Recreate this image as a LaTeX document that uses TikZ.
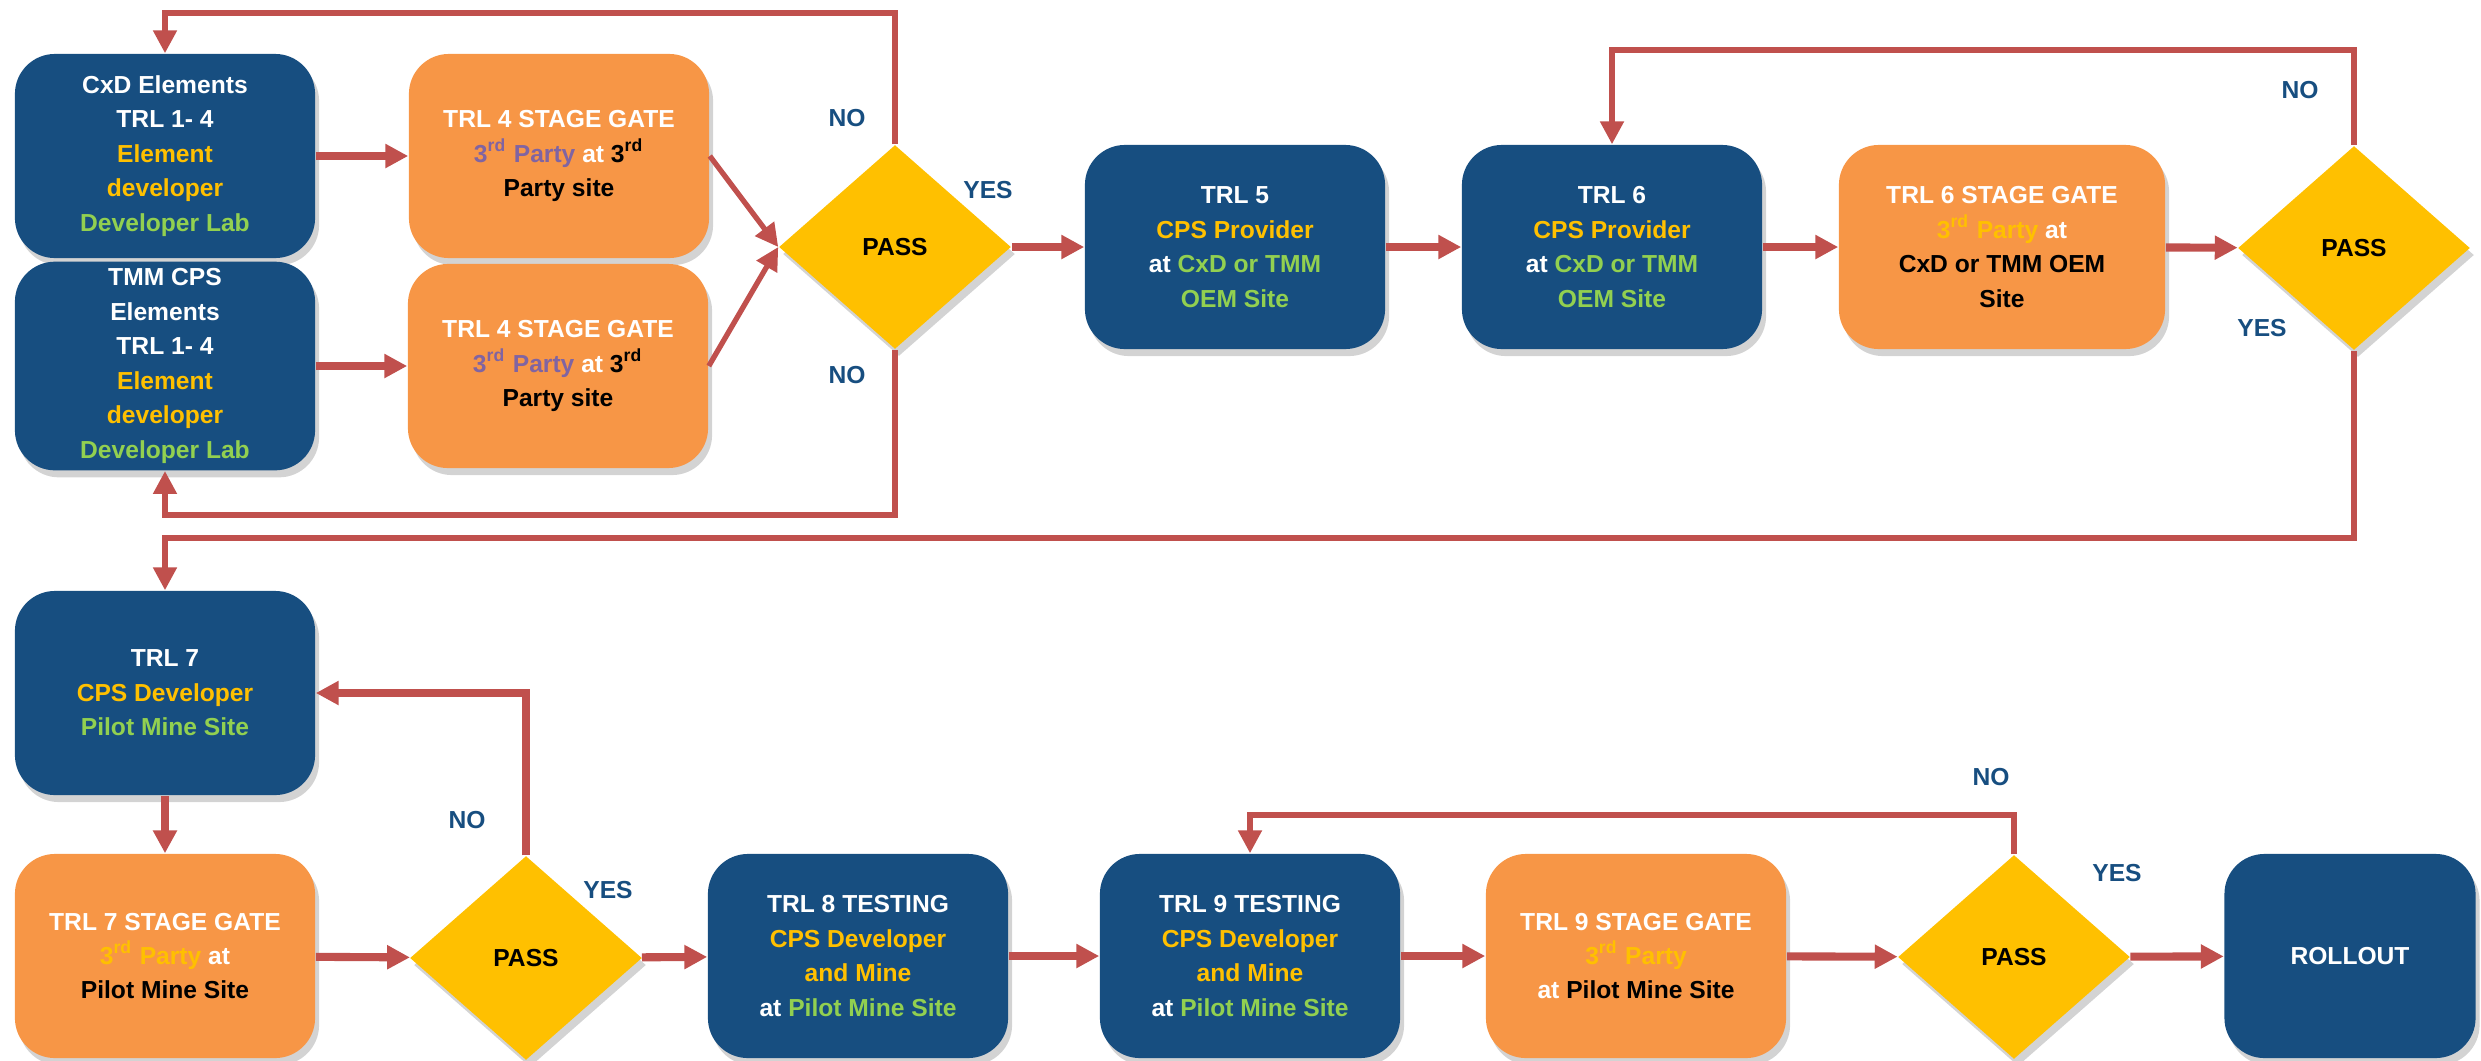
\documentclass[tikz,border=0pt]{standalone}
\usepackage{fontspec}
\setmainfont{Liberation Sans}
\usepackage{tikz}
\usetikzlibrary{shadows}
\usetikzlibrary{positioning}
\usetikzlibrary{arrows.meta,shapes.geometric}
\usetikzlibrary{calc}
\definecolor{trlblue}{HTML}{174E80}
\definecolor{gateorange}{HTML}{F79646}
\definecolor{passyellow}{HTML}{FFC000}
\definecolor{flowred}{HTML}{C0504D}
\definecolor{sitegreen}{HTML}{92D050}
\definecolor{partypurple}{HTML}{8064A2}
\newcommand{\boxfont}{\fontsize{7}{9.8}\selectfont\bfseries}
\newcommand{\rd}{3\textsuperscript{rd}}
\tikzstyle{trlbox}=[rectangle,rounded corners=0.4cm,fill=trlblue,minimum width=3cm,minimum height=2.04cm,inner sep=2pt,align=center,text=white,font=\boxfont,drop shadow={opacity=0.35,shadow xshift=0.04cm,shadow yshift=-0.07cm}]
\tikzstyle{gatebox}=[trlbox,fill=gateorange]
\tikzstyle{passnode}=[diamond,fill=passyellow,minimum width=2.32cm,minimum height=2.04cm,inner sep=0pt,font=\boxfont,drop shadow={opacity=0.35,shadow xshift=0.04cm,shadow yshift=-0.07cm}]
\tikzstyle{flow} = [draw,flowred,line width=2.3pt,-{Triangle[length=6.5pt,width=6.5pt]}]
\tikzstyle{backline} = [draw,flowred,line width=1.5pt,-{Triangle[length=6.5pt,width=6.5pt]}]
\tikzstyle{answer} = [font=\boxfont,text=trlblue]

\begin{document}
\begin{tikzpicture}[x=0.01cm,y=-0.01cm]

    \useasboundingbox (0,0) rectangle (2481,1060);

    % first stage: elements up to TRL 6
    \node[trlbox] (cxd) at (165,156) {CxD Elements\\TRL 1- 4\\\textcolor{passyellow}{Element}\\\textcolor{passyellow}{developer}\\\textcolor{sitegreen}{Developer Lab}};
    \node[trlbox] (tmm) at (165,366) {TMM CPS\\Elements\\TRL 1- 4\\\textcolor{passyellow}{Element}\\\textcolor{passyellow}{developer}\\\textcolor{sitegreen}{Developer Lab}};
    \node[gatebox] (gatea) at (559,156) {TRL 4 STAGE GATE\\\textcolor{partypurple}{\rd{} Party} at \textcolor{black}{\rd}\\\textcolor{black}{Party site}};
    \node[gatebox] (gateb) at (558,366) {TRL 4 STAGE GATE\\\textcolor{partypurple}{\rd{} Party} at \textcolor{black}{\rd}\\\textcolor{black}{Party site}};
    \node[trlbox] (trl5) at (1235,247) {TRL 5\\\textcolor{passyellow}{CPS Provider}\\at \textcolor{sitegreen}{CxD or TMM}\\\textcolor{sitegreen}{OEM Site}};
    \node[trlbox] (trl6) at (1612,247) {TRL 6\\\textcolor{passyellow}{CPS Provider}\\at \textcolor{sitegreen}{CxD or TMM}\\\textcolor{sitegreen}{OEM Site}};
    \node[gatebox,minimum width=3.26cm] (gate6) at (2002,247) {TRL 6 STAGE GATE\\\textcolor{passyellow}{\rd{} Party} at\\\textcolor{black}{CxD or TMM OEM}\\\textcolor{black}{Site}};

    % second stage: pilot mine
    \node[trlbox] (trl7) at (165,693) {TRL 7\\\textcolor{passyellow}{CPS Developer}\\\textcolor{sitegreen}{Pilot Mine Site}};
    \node[gatebox] (gate7) at (165,956) {TRL 7 STAGE GATE\\\textcolor{passyellow}{\rd{} Party} at\\\textcolor{black}{Pilot Mine Site}};
    \node[trlbox] (trl8) at (858,956) {TRL 8 TESTING\\\textcolor{passyellow}{CPS Developer}\\\textcolor{passyellow}{and Mine}\\at \textcolor{sitegreen}{Pilot Mine Site}};
    \node[trlbox] (trl9) at (1250,956) {TRL 9 TESTING\\\textcolor{passyellow}{CPS Developer}\\\textcolor{passyellow}{and Mine}\\at \textcolor{sitegreen}{Pilot Mine Site}};
    \node[gatebox] (gate9) at (1636,956) {TRL 9 STAGE GATE\\\textcolor{passyellow}{\rd{} Party}\\at \textcolor{black}{Pilot Mine Site}};
    \node[trlbox,minimum width=2.51cm] (rollout) at (2350,956) {ROLLOUT};

    \foreach \pos/\name in {{(895,247)/pass1}, {(2354,248)/pass2}, {(526,958)/pass3}, {(2014,957)/pass4}}
        \node[passnode] (\name) at \pos {PASS};

    \foreach \pos/\name/\label in {{(847,118)/noa/NO}, {(847,375)/nob/NO}, {(988,190)/yesa/YES}, {(2300,90)/noc/NO}, {(2262,328)/yesb/YES}, {(467,820)/nod/NO}, {(608,890)/yesc/YES}, {(1991,777)/noe/NO}, {(2117,873)/yesd/YES}}
        \node[answer] (\name) at \pos {\label};

    \foreach \source/ \dest in {cxd/gatea, tmm/gateb, pass1/trl5, trl5/trl6, trl6/gate6, gate6/pass2, trl7/gate7, gate7/pass3, pass3/trl8, trl8/trl9, trl9/gate9, gate9/pass4, pass4/rollout}
        \path[flow] (\source) -- (\dest);

    \path[backline] (gatea.east) -- (pass1.west);
    \path[backline] (gateb.east) -- (pass1.west);

    \path[backline] (pass1.north) -- (895,13) -| (cxd.north);
    \path[backline] (pass1.south) -- (895,515) -| (tmm.south);
    \path[backline] (pass2.north) -- (2354,50) -| (trl6.north);
    \path[backline] (pass2.south) -- (2354,538) -| (trl7.north);
    \path[backline,line width=2pt] (pass3.north) |- (trl7.east);
    \path[backline] (pass4.north) -- (2014,815) -| (trl9.north);

\end{tikzpicture}
\end{document}
